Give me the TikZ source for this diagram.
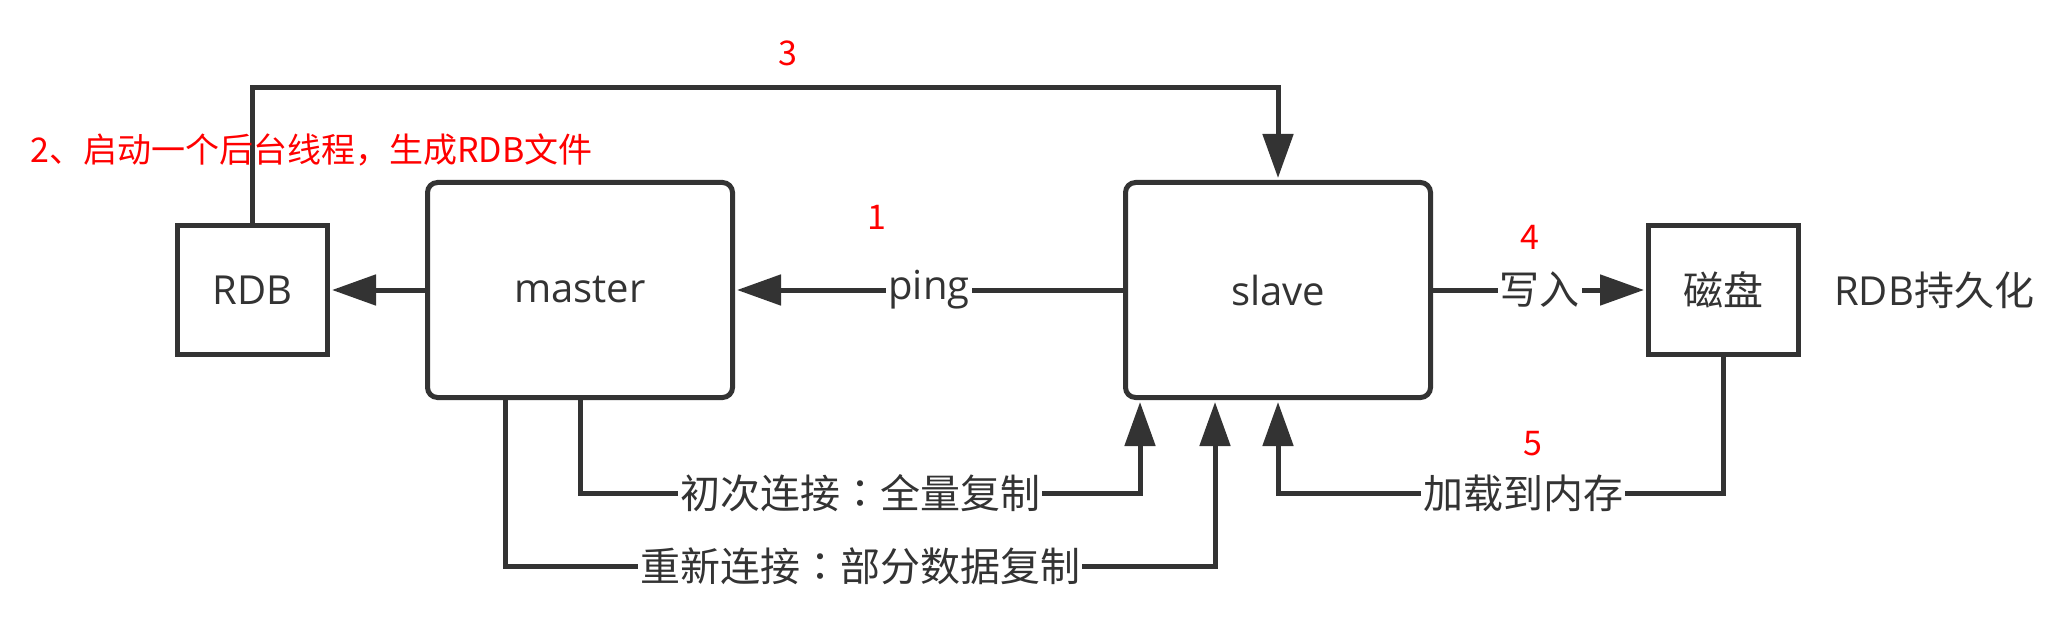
\documentclass[tikz,border=0pt]{standalone}
\usepackage{fontspec}
\setmainfont{Open Sans}
\newfontfamily\cjk{Noto Sans CJK SC}
\newfontfamily\cjkjp{Noto Sans CJK JP}
\usetikzlibrary{arrows.meta,positioning}
\definecolor{D}{HTML}{333333}
\definecolor{R}{RGB}{255,0,0}
\newcommand{\colonmark}{{\cjkjp ：}}

\begin{document}
\begin{tikzpicture}[x=1pt,y=-1pt,
    box/.style={draw=D, line width=5pt, text=D, inner sep=0pt,
      font=\fontsize{40}{48}\selectfont},
    srv/.style={box, rounded corners=10pt, minimum width=305pt, minimum height=215pt},
    store/.style={box, minimum width=150pt, minimum height=128pt},
    link/.style={draw=D, line width=5pt, -{Triangle[length=44pt,width=30pt]}, shorten >=2pt},
    lbl/.style={fill=white, text=D, inner xsep=2pt, inner ysep=0pt,
      font=\cjk\fontsize{40}{48}\selectfont},
    note/.style={text=R, inner sep=0pt, font=\cjk\fontsize{34}{40}\selectfont}]
    \useasboundingbox (0,0) rectangle (2068,636);

    % boxes
    \node[srv] (master) at (580,290) {master};
    \node[store, left=95pt of master] (rdb) {RDB};
    \node[srv, right=388pt of master] (slave) {slave};
    \node[store, right=213pt of slave, font=\cjk\fontsize{40}{48}\selectfont] (disk) {磁盘};
    \node[right=33pt of disk, inner sep=0pt, text=D, font=\fontsize{40}{48}\selectfont] (persist) {RDB{\cjk 持久化}};

    % 1 ping
    \draw[link] (slave.west) -- node[lbl, font=\fontsize{40}{48}\selectfont] {ping} (master.east);
    % 2 RDB
    \draw[link] (master.west) -- (rdb.east);
    % 3 RDB -> slave
    \draw[link] (rdb.north) |- ([yshift=92pt]slave.north) -- (slave.north);
    % 4 写入
    \draw[link] (slave.east) -- node[lbl] {写入} (disk.west);
    % 5 加载
    \draw[link] (disk.south) |- node[lbl, pos=0.725] {加载到内存} ([yshift=-93pt]slave.south) -- (slave.south);

    % replication
    \draw[link] (master.south) |- node[lbl, pos=0.75] {初次连接\colonmark 全量复制}
      ([xshift=17pt,yshift=-93pt]slave.south west) -- ([xshift=17pt]slave.south west);
    \draw[link] ([xshift=-75pt]master.south) |- node[lbl, pos=0.75] {重新连接\colonmark 部分数据复制}
      ([xshift=92pt,yshift=-166pt]slave.south west) -- ([xshift=92pt]slave.south west);

    % steps
    \node[note] (n1) at (877,217) {1};
    \node[note, anchor=west] (n2) at (30,150) {2、启动一个后台线程，生成RDB文件};
    \node[note] (n3) at (788,53) {3};
    \node[note] (n4) at (1530,237) {4};
    \node[note] (n5) at (1533,444) {5};
\end{tikzpicture}
\end{document}
